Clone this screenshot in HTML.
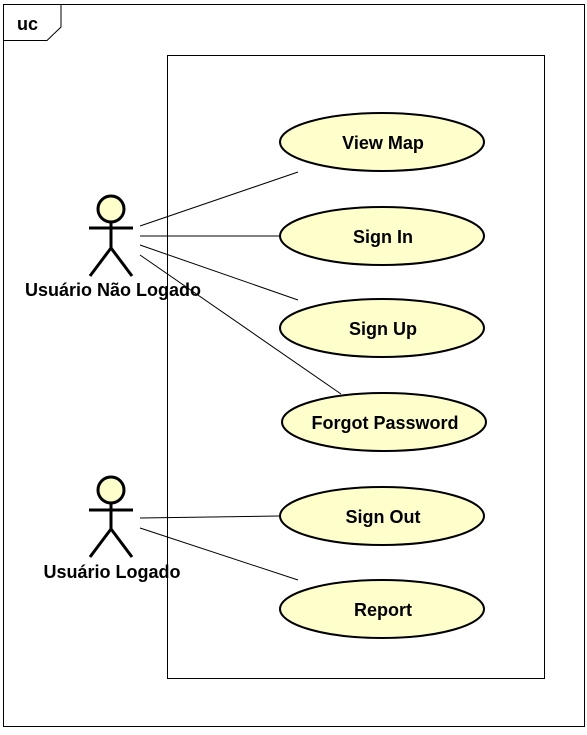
<!DOCTYPE html>
<html><head><style>
html,body{margin:0;padding:0;background:#fff;}
svg text{font-family:"Liberation Sans",Arial,sans-serif;font-weight:bold;}
</style></head><body>
<svg width="587" height="730" viewBox="0 0 587 730" xmlns="http://www.w3.org/2000/svg">
<rect x="3.5" y="4.5" width="581" height="722" fill="#fff" stroke="#000" stroke-width="1"/>
<path d="M3.5 40.5 H47 L61 27 V4.5" fill="none" stroke="#000"/>
<text x="17" y="30" font-size="18">uc</text>
<rect x="167.5" y="55.5" width="377" height="623" fill="#fff" stroke="#000"/>
<g stroke="#000" stroke-width="1">
<line x1="140" y1="226" x2="298" y2="172"/>
<line x1="140" y1="236" x2="279" y2="236"/>
<line x1="140" y1="245" x2="298" y2="300"/>
<line x1="140" y1="255" x2="341" y2="394"/>
<line x1="140" y1="518" x2="279" y2="516"/>
<line x1="140" y1="528" x2="298" y2="580"/>
</g>
<g fill="#ffffcc" stroke="#000" stroke-width="2">
<ellipse cx="382" cy="142" rx="102" ry="29"/>
<ellipse cx="382" cy="236" rx="102" ry="29"/>
<ellipse cx="382" cy="328" rx="102" ry="29"/>
<ellipse cx="384" cy="422" rx="102" ry="29"/>
<ellipse cx="382" cy="516" rx="102" ry="29"/>
<ellipse cx="382" cy="609" rx="102" ry="29"/>
</g>
<g font-size="18" text-anchor="middle">
<text x="383" y="149">View Map</text>
<text x="383" y="243">Sign In</text>
<text x="383" y="335">Sign Up</text>
<text x="385" y="429">Forgot Password</text>
<text x="383" y="523">Sign Out</text>
<text x="383" y="616">Report</text>
</g>
<g stroke="#000" stroke-width="3" fill="none">
<circle cx="111" cy="209" r="13" fill="#ffffcc"/>
<line x1="111" y1="222" x2="111" y2="248"/>
<line x1="89" y1="228" x2="133" y2="228"/>
<polyline points="90,276 111,248 132,276"/>
<circle cx="111" cy="490" r="13" fill="#ffffcc"/>
<line x1="111" y1="503" x2="111" y2="529"/>
<line x1="89" y1="510" x2="133" y2="510"/>
<polyline points="90,557 111,529 132,557"/>
</g>
<g font-size="18" text-anchor="middle">
<text x="113" y="296">Usuário Não Logado</text>
<text x="112" y="578">Usuário Logado</text>
</g>
</svg>
</body></html>
